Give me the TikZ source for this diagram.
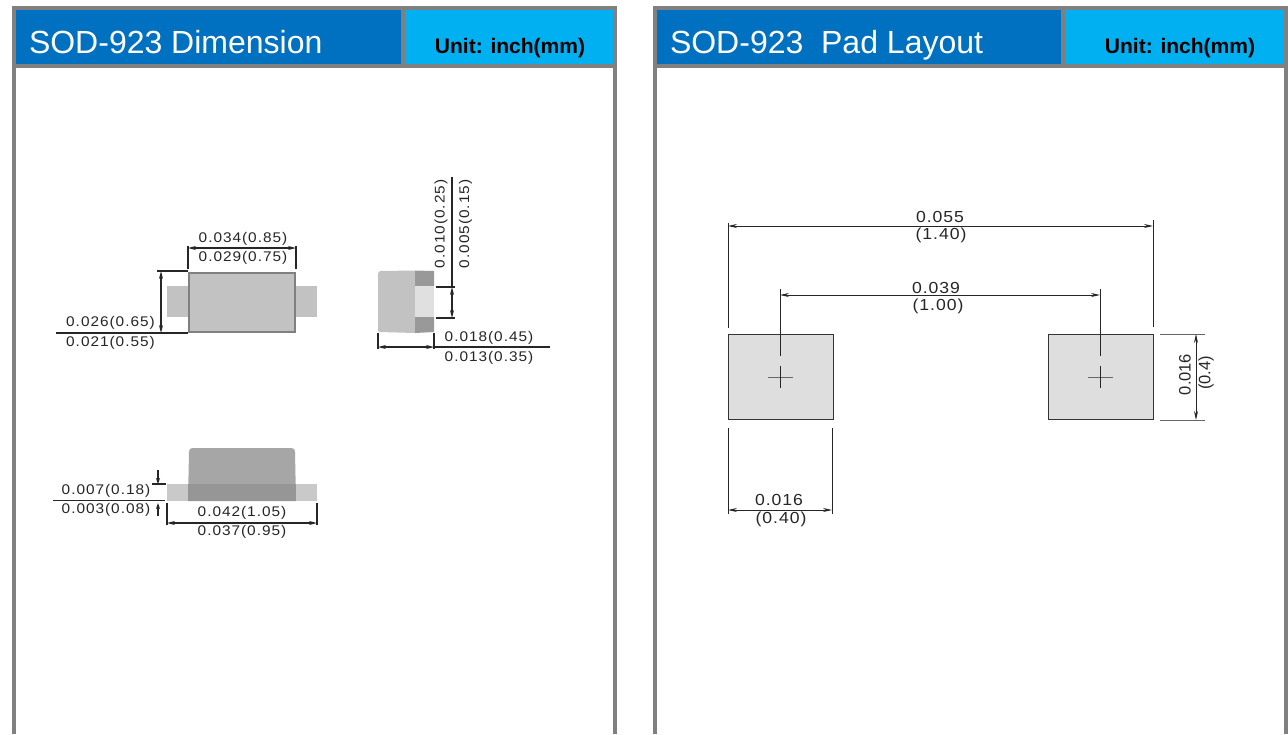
\documentclass[tikz,border=0pt]{standalone}
\usepackage{fontspec}
\setmainfont{Liberation Sans}
\newfontfamily\dimfont[LetterSpace=7,FakeStretch=1.1]{Liberation Sans}
\newfontfamily\padfont[LetterSpace=6,FakeStretch=1.1]{Liberation Sans}
\usetikzlibrary{arrows.meta}
\definecolor{panelgray}{HTML}{808080}
\definecolor{darkblue}{HTML}{0070C0}
\definecolor{lightblue}{HTML}{00B0F0}
\definecolor{inkgray}{HTML}{262626}
\tikzset{
  box/.style={inner sep=0pt,outer sep=0pt},
  head/.style={box,fill=darkblue},
  unit/.style={box,fill=lightblue},
  title/.style={box,anchor=base west,text=white,font=\fontsize{32}{32}\selectfont},
  unittext/.style={box,anchor=base,font=\bfseries\fontsize{21}{21}\selectfont},
  dim/.style={box,text=inkgray,font=\dimfont\fontsize{14}{14}\selectfont},
  paddim/.style={box,text=inkgray,font=\padfont\fontsize{16}{16}\selectfont},
  sidedim/.style={box,text=inkgray,rotate=90,font=\fontsize{16.5}{16.5}\selectfont},
  ext/.style={line width=0.9pt,draw=inkgray},
  bold/.style={line width=1.6pt,draw=black!85},
  span/.style={line width=1.2pt,draw=inkgray,{Stealth[length=8pt,width=4pt]}-{Stealth[length=8pt,width=4pt]}},
  padspan/.style={line width=0.9pt,draw=inkgray,{Stealth[length=9pt,width=4pt]}-{Stealth[length=9pt,width=4pt]}},
  tip/.style={line width=1.2pt,draw=inkgray,-{Stealth[length=6pt,width=4pt]}},
  pad/.style={box,draw=black!80,line width=1pt,fill=black!13,minimum width=105pt,minimum height=85.5pt},
  lead/.style={box,fill=black!24},
}
\begin{document}
\begin{tikzpicture}[x=1pt,y=-1pt]
  \useasboundingbox (0,0) rectangle (1288,734);
  % panels
  \fill[panelgray] (12,6) rectangle (617,734);
  \fill[white] (16,68) rectangle (613,734);
  \fill[panelgray] (653,6) rectangle (1288,734);
  \fill[white] (657,68) rectangle (1284,734);
  \node[head,minimum width=385pt,minimum height=54pt] (H1) at (208.5,37) {};
  \node[unit,minimum width=208pt,minimum height=54pt] (U1) at (509,37) {};
  \node[head,minimum width=404pt,minimum height=54pt] (H2) at (859,37) {};
  \node[unit,minimum width=219pt,minimum height=54pt] (U2) at (1174.5,37) {};
  \node[title] (T1) at (29,53) {SOD-923 Dimension};
  \node[title] (T2) at (670,53) {SOD-923\ \ Pad Layout};
  \node[unittext] (N1) at (510,53) {Unit: inch(mm)};
  \node[unittext] (N2) at (1180,53) {Unit: inch(mm)};

  % top view
  \node[lead,minimum width=150pt,minimum height=31pt] (LT) at (242,301.5) {};
  \node[box,draw=panelgray,line width=2pt,fill=black!24,minimum width=106pt,minimum height=59pt] (BT) at (241.5,302) {};
  \coordinate (a1) at (188,246);
  \coordinate (a2) at (188,269);
  \coordinate (a3) at (296,246);
  \coordinate (a4) at (296,269);
  \coordinate (a5) at (188,248);
  \coordinate (a6) at (296,248);
  \draw[bold] (a1) -- (a2);
  \draw[bold] (a3) -- (a4);
  \draw[span] (a5) -- (a6);
  \node[dim] (W1) at (243,238.5) {0.034(0.85)};
  \node[dim] (W2) at (243,257.5) {0.029(0.75)};
  \coordinate (b1) at (157,271);
  \coordinate (b2) at (188,271);
  \coordinate (b3) at (56,333);
  \coordinate (b4) at (188,333);
  \coordinate (b5) at (161,271);
  \coordinate (b6) at (161,333);
  \draw[bold] (b1) -- (b2);
  \draw[bold] (b3) -- (b4);
  \draw[span] (b5) -- (b6);
  \node[dim] (H3) at (110.5,322.5) {0.026(0.65)};
  \node[dim] (H4) at (110.5,342.5) {0.021(0.55)};

  % side view
  \fill[black!24] (380,271) -- (415,270.5) -- (415,333) -- (380,332) -- (378,331) -- (378,273) -- cycle;
  \fill[black!40] (415,270.5) -- (434,271) -- (434,286) -- (415,286) -- cycle;
  \fill[black!12] (415,286) rectangle (434,317);
  \fill[black!40] (415,317) -- (434,317) -- (434,332) -- (415,333) -- cycle;
  \coordinate (c1) at (452,177);
  \coordinate (c2) at (452,287);
  \coordinate (c3) at (452,318);
  \coordinate (c4) at (436,287);
  \coordinate (c5) at (455,287);
  \coordinate (c6) at (436,318);
  \coordinate (c7) at (455,318);
  \draw[bold] (c1) -- (c2);
  \draw[bold] (c4) -- (c5);
  \draw[bold] (c6) -- (c7);
  \draw[span] (c2) -- (c3);
  \node[dim,rotate=90] (S1) at (441,224) {0.010(0.25)};
  \node[dim,rotate=90] (S2) at (465.5,224) {0.005(0.15)};
  \coordinate (d1) at (378,333);
  \coordinate (d2) at (378,349);
  \coordinate (d3) at (434,333);
  \coordinate (d4) at (434,349);
  \coordinate (d5) at (378,347);
  \coordinate (d6) at (434,347);
  \coordinate (d7) at (550,347);
  \draw[bold] (d1) -- (d2);
  \draw[bold] (d3) -- (d4);
  \draw[span] (d5) -- (d6);
  \draw[bold] (d6) -- (d7);
  \node[dim] (S3) at (489,338) {0.018(0.45)};
  \node[dim] (S4) at (489,357.5) {0.013(0.35)};

  % end view
  \fill[black!35] (188,501) -- (189,452) .. controls (189,449) and (190,448) .. (193,448) -- (291,448)
    .. controls (294,448) and (295,449) .. (295,452) -- (296,501) -- cycle;
  \node[lead,fill=black!21,minimum width=150pt,minimum height=17pt] (LE) at (242,492.5) {};
  \fill[black!41] (188,484) rectangle (296,501);
  \coordinate (e1) at (53,500);
  \coordinate (e2) at (165,500);
  \coordinate (e3) at (152,484);
  \coordinate (e4) at (166,484);
  \coordinate (e5) at (158,470);
  \coordinate (e6) at (158,484);
  \coordinate (e7) at (158,516);
  \coordinate (e8) at (158,503);
  \draw[ext] (e1) -- (e2);
  \draw[bold] (e3) -- (e4);
  \draw[tip] (e5) -- (e6);
  \draw[tip] (e7) -- (e8);
  \node[dim] (E1) at (106,490.5) {0.007(0.18)};
  \node[dim] (E2) at (106,509.5) {0.003(0.08)};
  \coordinate (f1) at (167,503);
  \coordinate (f2) at (167,525);
  \coordinate (f3) at (317,503);
  \coordinate (f4) at (317,525);
  \coordinate (f5) at (167,523);
  \coordinate (f6) at (317,523);
  \draw[bold] (f1) -- (f2);
  \draw[bold] (f3) -- (f4);
  \draw[span] (f5) -- (f6);
  \node[dim] (E3) at (242,512.5) {0.042(1.05)};
  \node[dim] (E4) at (242,532) {0.037(0.95)};

  % pad layout
  \node[pad] (P1) at (780.5,377) {};
  \node[pad] (P2) at (1100.5,377) {};
  \coordinate (g1) at (728,223);
  \coordinate (g2) at (728,328);
  \coordinate (g3) at (1153,220);
  \coordinate (g4) at (1153,327);
  \coordinate (g5) at (728,226);
  \coordinate (g6) at (1153,226);
  \draw[ext] (g1) -- (g2);
  \draw[ext] (g3) -- (g4);
  \draw[padspan] (g5) -- (g6);
  \node[paddim] (L1) at (940,216.5) {0.055};
  \node[paddim] (L2) at (941,235.5) {(1.40)};
  \coordinate (h1) at (780,289);
  \coordinate (h2) at (780,356);
  \coordinate (h3) at (1100,289);
  \coordinate (h4) at (1100,356);
  \coordinate (h5) at (780,295);
  \coordinate (h6) at (1100,295);
  \draw[ext] (h1) -- (h2);
  \draw[ext] (h3) -- (h4);
  \draw[padspan] (h5) -- (h6);
  \node[paddim] (L3) at (936,288) {0.039};
  \node[paddim] (L4) at (938,306) {(1.00)};
  \foreach \c/\m in {780/A,1100/B} {
    \coordinate (x\m1) at (\c-12.5,377);
    \coordinate (x\m2) at (\c+12.5,377);
    \coordinate (x\m3) at (\c,366);
    \coordinate (x\m4) at (\c,388);
    \draw[ext,draw=black!60] (x\m1) -- (x\m2);
    \draw[ext] (x\m3) -- (x\m4);
  }
  \coordinate (k1) at (728,428);
  \coordinate (k2) at (728,514);
  \coordinate (k3) at (832,428);
  \coordinate (k4) at (832,514);
  \coordinate (k5) at (728,510);
  \coordinate (k6) at (832,510);
  \draw[ext] (k1) -- (k2);
  \draw[ext] (k3) -- (k4);
  \draw[padspan] (k5) -- (k6);
  \node[paddim] (L5) at (779,500) {0.016};
  \node[paddim] (L6) at (781,519) {(0.40)};
  \coordinate (m1) at (1160,334);
  \coordinate (m2) at (1205,334);
  \coordinate (m3) at (1160,420);
  \coordinate (m4) at (1205,420);
  \coordinate (m5) at (1196,334);
  \coordinate (m6) at (1196,420);
  \draw[ext,draw=black!60] (m1) -- (m2);
  \draw[ext,draw=black!60] (m3) -- (m4);
  \draw[padspan] (m5) -- (m6);
  \node[sidedim] (L7) at (1185,374.5) {0.016};
  \node[sidedim] (L8) at (1206,373) {(0.4)};
\end{tikzpicture}
\end{document}
